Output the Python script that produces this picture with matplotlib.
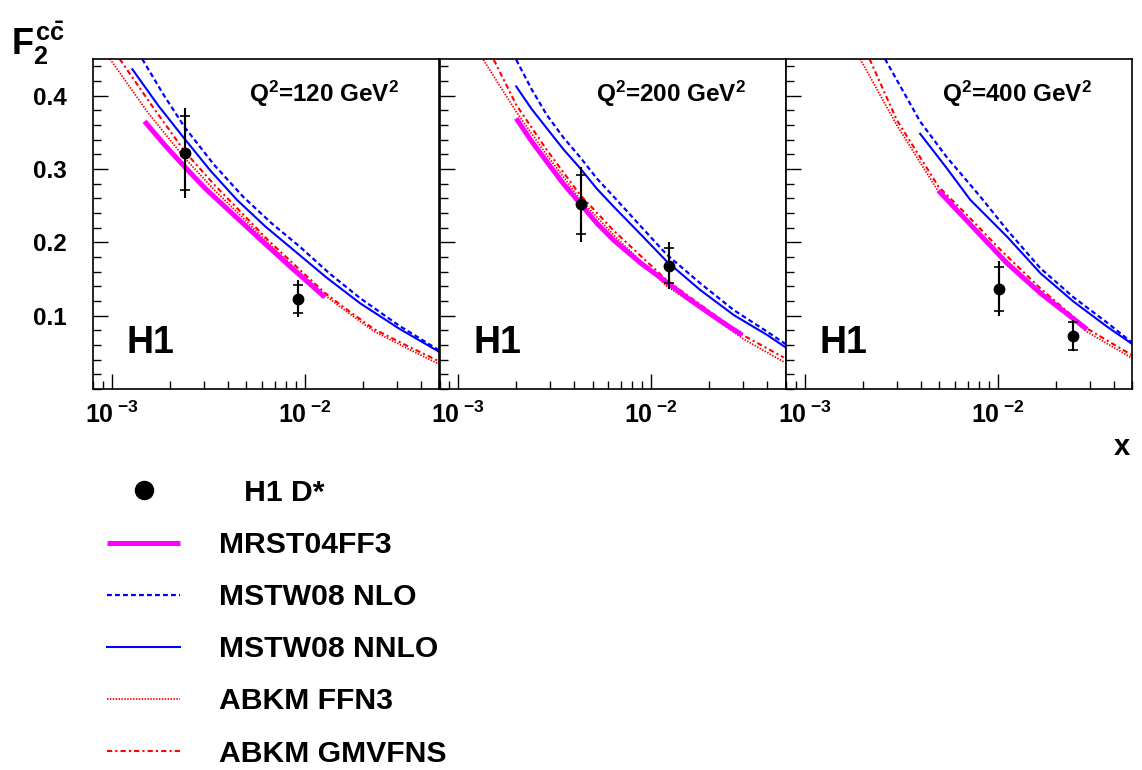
import matplotlib
matplotlib.use('Agg')
import matplotlib.pyplot as plt
from matplotlib.lines import Line2D
from matplotlib.ticker import FixedLocator, MultipleLocator, LogLocator, NullFormatter, FormatStrFormatter

plt.rcParams['font.family'] = ['Liberation Sans', 'DejaVu Sans']
plt.rcParams['font.weight'] = 'bold'
plt.rcParams['mathtext.fontset'] = 'custom'
plt.rcParams['mathtext.rm'] = 'Liberation Sans:bold'
plt.rcParams['mathtext.it'] = 'Liberation Sans:bold'
plt.rcParams['mathtext.bf'] = 'Liberation Sans:bold'

# ---- data (one entry per Q2 panel) ----
q2_values = [120, 200, 400]

# H1 D* measurements
h1_x = [[0.00239, 0.0092], [0.00433, 0.0124], [0.0102, 0.0247]]
h1_y = [[0.322, 0.123], [0.252, 0.168], [0.137, 0.0726]]
h1_stat = [[0.050, 0.019], [0.040, 0.024], [0.030, 0.019]]
h1_tot = [[0.061, 0.025], [0.051, 0.032], [0.037, 0.021]]

# MRST04FF3
mrst_x = [[0.00148, 0.00188, 0.00239, 0.00307, 0.00394, 0.00481, 0.00586, 0.00716, 0.00873, 0.01057, 0.01276],
          [0.00200, 0.00240, 0.00288, 0.00351, 0.00429, 0.00524, 0.0064, 0.00891, 0.0123, 0.01549, 0.0195, 0.0241, 0.0297],
          [0.00494, 0.00548, 0.0075, 0.0112, 0.0167, 0.0291]]
mrst_y = [[0.365, 0.333, 0.303, 0.273, 0.2465, 0.2256, 0.2046, 0.184, 0.1633, 0.1442, 0.1251],
          [0.369, 0.338, 0.310, 0.280, 0.253, 0.226, 0.203, 0.171, 0.144, 0.124, 0.1055, 0.089, 0.0737],
          [0.2706, 0.258, 0.220, 0.1715, 0.1306, 0.0814]]

# MSTW08 NLO
nlo_x = [[0.00144, 0.00186, 0.00239, 0.00339, 0.00481, 0.00675, 0.00946, 0.01355, 0.0194, 0.0311, 0.0497],
         [0.00200, 0.00240, 0.00288, 0.00351, 0.00429, 0.00524, 0.0064, 0.00891, 0.0121, 0.0180, 0.0268, 0.0400, 0.0498],
         [0.00261, 0.00397, 0.00546, 0.00814, 0.0112, 0.0167, 0.0248, 0.0370, 0.0499]]
nlo_y = [[0.450, 0.401, 0.357, 0.306, 0.262, 0.226, 0.194, 0.157, 0.124, 0.086, 0.053],
         [0.449, 0.409, 0.3738, 0.343, 0.3161, 0.287, 0.2624, 0.221, 0.183, 0.1442, 0.1078, 0.0782, 0.0614],
         [0.450, 0.3647, 0.316, 0.2624, 0.217, 0.1646, 0.125, 0.0905, 0.0632]]

# MSTW08 NNLO
nnlo_x = [[0.00128, 0.00175, 0.00239, 0.00327, 0.00446, 0.00624, 0.00873, 0.0130, 0.0194, 0.0311, 0.0497],
          [0.00200, 0.00240, 0.00288, 0.00351, 0.00429, 0.00524, 0.0064, 0.00891, 0.0121, 0.0180, 0.0268, 0.0400, 0.0498],
          [0.00397, 0.00546, 0.00722, 0.0112, 0.0167, 0.0248, 0.0370, 0.0499]]
nnlo_y = [[0.436, 0.386, 0.341, 0.297, 0.258, 0.222, 0.190, 0.152, 0.117, 0.082, 0.051],
          [0.4125, 0.382, 0.3556, 0.327, 0.301, 0.273, 0.2487, 0.210, 0.1737, 0.135, 0.101, 0.0737, 0.0569],
          [0.348, 0.301, 0.258, 0.2078, 0.1578, 0.1191, 0.085, 0.0614]]

# ABKM FFN3
ffn3_x = [[0.00098, 0.00153, 0.00239, 0.00339, 0.00481, 0.00647, 0.00873, 0.01276, 0.01531, 0.0228, 0.0340, 0.0497],
          [0.00135, 0.00200, 0.00288, 0.00429, 0.0064, 0.0121, 0.0180, 0.0302, 0.0488],
          [0.00194, 0.00300, 0.00494, 0.00694, 0.01017, 0.0167, 0.0291, 0.0499]]
ffn3_y = [[0.450, 0.378, 0.315, 0.272, 0.233, 0.199, 0.167, 0.128, 0.112, 0.079, 0.0555, 0.034],
          [0.449, 0.378, 0.319, 0.259, 0.210, 0.140, 0.110, 0.068, 0.037],
          [0.450, 0.360, 0.269, 0.2306, 0.1851, 0.1324, 0.078, 0.042]]

# ABKM GMVFNS
gmv_x = [[0.00110, 0.00162, 0.00239, 0.00339, 0.00481, 0.00647, 0.00873, 0.01276, 0.01531, 0.0228, 0.0340, 0.0497],
         [0.00153, 0.00200, 0.00288, 0.00429, 0.0064, 0.0121, 0.0180, 0.0302, 0.0488],
         [0.00217, 0.00300, 0.00494, 0.00694, 0.01017, 0.0167, 0.0291, 0.0499]]
gmv_y = [[0.450, 0.386, 0.324, 0.279, 0.238, 0.203, 0.171, 0.131, 0.115, 0.082, 0.059, 0.038],
         [0.449, 0.3875, 0.326, 0.2647, 0.216, 0.148, 0.115, 0.073, 0.043],
         [0.450, 0.367, 0.276, 0.2374, 0.1919, 0.137, 0.0825, 0.046]]

x_ticks = [1e-3, 1e-2]
x_tick_labels = [r'$\mathbf{10}^{\;\mathbf{-3}}$', r'$\mathbf{10}^{\;\mathbf{-2}}$']

W, H = 1142, 770
fig = plt.figure(figsize=(W / 100, H / 100), dpi=100)

panel_left = [93, 439.5, 786]
handles = {}
for i, q2 in enumerate(q2_values):
    ax = fig.add_axes([panel_left[i] / W, 1 - 389 / H, 346.3 / W, 330 / H])

    l_ffn, = ax.plot(ffn3_x[i], ffn3_y[i], color='red', lw=1.3, ls=(0, (0.8, 0.8)))
    l_gmv, = ax.plot(gmv_x[i], gmv_y[i], color='red', lw=1.5, ls=(0, (2.5, 1.5, 1, 1.5)))
    l_nlo, = ax.plot(nlo_x[i], nlo_y[i], color='blue', lw=1.6, ls=(0, (2.2, 1.4)))
    l_nnlo, = ax.plot(nnlo_x[i], nnlo_y[i], color='blue', lw=1.5)
    l_mrst, = ax.plot(mrst_x[i], mrst_y[i], color='magenta', lw=3.6, solid_capstyle='butt')

    # total error as plain bar, statistical error marked with small caps
    ax.errorbar(h1_x[i], h1_y[i], yerr=h1_tot[i], fmt='none', ecolor='black', elinewidth=1.5, capsize=0, zorder=5)
    ax.errorbar(h1_x[i], h1_y[i], yerr=h1_stat[i], fmt='o', color='black', ms=7.5,
                elinewidth=1.5, capsize=3.6, capthick=1.2, zorder=6)

    if i == 0:
        handles = {'mrst': l_mrst, 'nlo': l_nlo, 'nnlo': l_nnlo, 'ffn': l_ffn, 'gmv': l_gmv}

    ax.set_xscale('log')
    ax.set_xlim(8e-4, 0.05)
    ax.set_ylim(0, 0.45)

    ax.xaxis.set_major_locator(FixedLocator(x_ticks))
    ax.set_xticklabels(x_tick_labels)
    ax.xaxis.set_minor_locator(LogLocator(base=10, subs=range(2, 10)))
    ax.xaxis.set_minor_formatter(NullFormatter())
    ax.yaxis.set_major_locator(FixedLocator([0.1, 0.2, 0.3, 0.4]))
    ax.yaxis.set_major_formatter(FormatStrFormatter('%.1f'))
    ax.yaxis.set_minor_locator(MultipleLocator(0.02))

    ax.tick_params(which='both', direction='in', top=False, right=False, width=1.0)
    ax.tick_params(which='major', length=11)
    ax.tick_params(which='minor', length=5.5)
    ax.tick_params(axis='y', pad=19, labelsize=17.5)
    ax.tick_params(axis='x', pad=9, labelsize=18)
    if i > 0:
        ax.tick_params(axis='y', labelleft=False)
    for sp in ax.spines.values():
        sp.set_linewidth(1.2)

    ax.text(0.885, 0.87, 'Q$^2$=%d GeV$^2$' % q2, transform=ax.transAxes,
            ha='right', va='baseline', fontsize=17.5, fontweight='bold')
    ax.text(0.098, 0.109, 'H1', transform=ax.transAxes, ha='left', va='baseline',
            fontsize=27, fontweight='bold')

fig.text(0.01, 0.975, r'$F_2^{c\bar{c}}$', fontsize=26, ha='left', va='top')
fig.text(1130 / W, 1 - 455 / H, 'x', fontsize=21, fontweight='bold', ha='right', va='baseline')

pt_handle = Line2D([], [], marker='o', ls='none', color='black', ms=13)
fig.legend([pt_handle, handles['mrst'], handles['nlo'], handles['nnlo'], handles['ffn'], handles['gmv']],
           ['   H1 D*', 'MRST04FF3', 'MSTW08 NLO', 'MSTW08 NNLO', 'ABKM FFN3', 'ABKM GMVFNS'],
           loc='upper left', bbox_to_anchor=(107 / W, 1 - 479 / H), frameon=False,
           borderpad=0, borderaxespad=0, handlelength=2.43, handletextpad=1.27,
           labelspacing=0.80, prop={'size': 21.7, 'weight': 'bold'})

fig.savefig('out.png', dpi=100)
